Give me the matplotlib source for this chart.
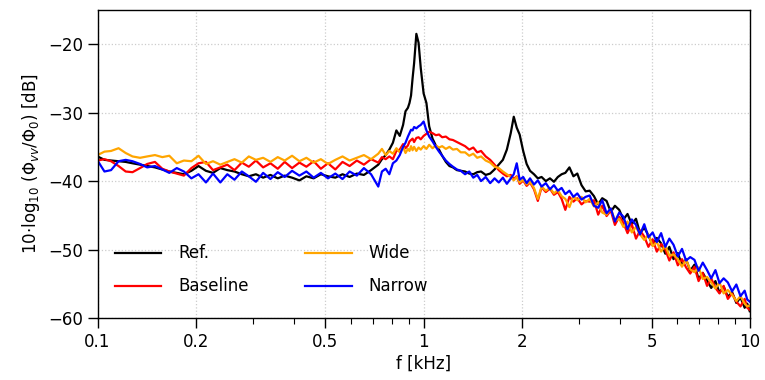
import matplotlib
matplotlib.use("Agg")
import matplotlib.pyplot as plt
from matplotlib.ticker import FixedLocator, FixedFormatter, NullFormatter, LogLocator

# ---------------- data ----------------
freq_khz = [
    0.100, 0.105, 0.110, 0.116, 0.122, 0.128, 0.135, 0.142, 0.150, 0.158,
    0.166, 0.175, 0.184, 0.194, 0.204, 0.215, 0.226, 0.238, 0.250, 0.263,
    0.277, 0.291, 0.306, 0.322, 0.339, 0.357, 0.375, 0.395, 0.416, 0.437,
    0.460, 0.484, 0.509, 0.536, 0.564, 0.593, 0.624, 0.656, 0.690, 0.726,
    0.745, 0.765, 0.785, 0.805, 0.825, 0.845, 0.865, 0.880, 0.895, 0.905,
    0.915, 0.925, 0.935, 0.950, 0.965, 0.980, 1.000, 1.020, 1.040, 1.065,
    1.090, 1.115, 1.140, 1.170, 1.200, 1.230, 1.265, 1.300,
    1.34, 1.38, 1.42, 1.46, 1.50, 1.55, 1.60, 1.65, 1.70, 1.75,
    1.80, 1.85, 1.89, 1.93, 1.97, 2.02, 2.07, 2.12, 2.18, 2.24,
    2.30, 2.37, 2.44, 2.51, 2.58, 2.65, 2.72, 2.80, 2.88, 2.96,
    3.05, 3.14,
    3.23, 3.33, 3.43, 3.53, 3.64, 3.75, 3.86, 3.98, 4.10, 4.22,
    4.35, 4.48, 4.61, 4.75, 4.89, 5.04, 5.19, 5.35, 5.51, 5.67,
    5.84, 6.02, 6.20, 6.38, 6.57, 6.77, 6.97, 7.18, 7.40, 7.62,
    7.85, 8.08, 8.32, 8.57, 8.83, 9.10, 9.37, 9.65, 9.83, 10.0,
]

ref_db = [
    -36.4, -36.9, -37.0, -37.1, -37.2, -37.4, -37.6, -37.8, -38.0, -38.3,
    -38.6, -38.8, -39.0, -38.5, -37.8, -38.5, -38.8, -38.1, -38.4, -38.6,
    -39.0, -39.3, -39.0, -39.5, -39.1, -39.6, -39.2, -39.5, -39.9, -39.3,
    -39.6, -39.0, -39.3, -39.5, -39.0, -39.4, -38.9, -39.1, -38.4, -37.6,
    -36.8, -36.2, -35.4, -34.4, -32.6, -33.4, -31.8, -29.8, -29.3, -28.6,
    -27.5, -25.0, -22.8, -18.5, -19.8, -23.5, -27.2, -28.6, -32.0, -33.8,
    -34.8, -35.4, -36.3, -37.2, -37.8, -38.0, -38.4, -38.5,
    -38.6, -38.9, -39.0, -38.7, -38.6, -39.1, -38.9, -38.3, -37.6, -36.9,
    -35.4, -33.0, -30.6, -32.2, -33.2, -35.6, -37.5, -38.5, -39.0, -39.6,
    -39.4, -40.0, -39.6, -40.1, -39.4, -39.0, -38.8, -38.0, -39.3, -38.9,
    -40.6, -41.5,
    -41.4, -42.2, -43.4, -42.5, -42.9, -44.5, -43.6, -44.2, -45.6, -44.8,
    -46.3, -45.5, -47.6, -46.8, -47.9, -49.4, -48.3, -49.1, -50.6, -49.6,
    -51.4, -50.5, -52.3, -51.4, -53.1, -52.2, -54.3, -53.4, -54.5, -55.6,
    -54.6, -56.3, -55.4, -56.9, -56.2, -57.8, -57.0, -58.5, -57.9, -59.0,
]

baseline_db = [
    -37.0, -36.8, -37.1, -37.8, -38.6, -38.7, -38.1, -37.5, -37.2, -38.2,
    -38.6, -38.9, -39.2, -38.1, -37.4, -37.2, -38.4, -38.0, -37.6, -38.4,
    -37.3, -37.9, -37.0, -38.0, -37.4, -38.2, -37.2, -38.1, -37.3, -37.9,
    -37.1, -38.2, -37.4, -38.3, -37.2, -37.8, -37.0, -37.6, -36.8, -37.3,
    -36.5, -36.8, -36.4, -36.8, -35.6, -35.4, -34.6, -35.2, -34.8, -34.2,
    -34.0, -33.8, -34.3, -33.7, -33.6, -33.9, -33.4, -33.1, -32.8, -33.0,
    -33.3, -33.2, -33.6, -33.5, -33.9, -34.0, -34.3, -34.6,
    -34.9, -35.4, -35.1, -35.8, -35.6, -36.4, -36.9, -37.6, -38.4, -38.9,
    -39.3, -39.1, -39.7, -39.3, -40.4, -39.9, -40.7, -40.2, -41.2, -42.9,
    -40.9, -41.6, -41.1, -42.0, -41.6, -42.6, -44.2, -42.3, -43.0, -42.5,
    -43.4, -42.9,
    -43.0, -42.8, -44.9, -43.6, -45.1, -44.3, -46.4, -45.2, -46.1, -47.6,
    -46.3, -48.4, -47.2, -48.1, -49.6, -48.5, -50.3, -49.2, -50.0, -51.6,
    -50.4, -52.3, -51.4, -52.6, -53.5, -52.5, -54.6, -53.4, -55.3, -54.2,
    -55.6, -56.4, -55.3, -57.2, -56.4, -57.6, -58.3, -57.2, -58.5, -58.8,
]

wide_db = [
    -36.2, -35.7, -35.6, -35.2, -35.9, -36.4, -36.6, -36.4, -36.2, -36.5,
    -36.3, -37.4, -37.0, -37.1, -36.3, -37.5, -37.1, -37.6, -37.2, -36.8,
    -37.3, -36.4, -36.9, -36.6, -37.2, -36.5, -37.0, -36.3, -37.1, -36.6,
    -37.3, -36.8, -37.5, -36.9, -36.4, -37.0, -36.6, -36.2, -36.8, -36.0,
    -35.3, -36.2, -35.6, -36.0, -35.2, -35.8, -35.0, -35.9, -35.3, -35.6,
    -34.9, -35.5, -35.0, -35.6, -35.1, -35.4, -34.9, -35.3, -34.7, -35.2,
    -34.8, -35.1, -34.9, -35.3, -35.0, -35.4, -35.3, -35.8,
    -35.8, -36.3, -36.0, -36.6, -36.4, -37.0, -37.3, -37.9, -38.1, -38.6,
    -39.0, -39.4, -39.9, -39.4, -40.2, -39.8, -40.5, -40.1, -41.0, -42.6,
    -40.8, -41.4, -41.0, -41.8, -41.3, -42.2, -42.6, -43.8, -42.2, -42.8,
    -42.3, -43.1,
    -42.6, -43.7, -43.1, -44.6, -44.9, -44.0, -45.8, -45.5, -46.7, -45.9,
    -47.5, -46.7, -47.8, -48.6, -47.8, -49.5, -48.9, -50.3, -49.4, -50.9,
    -50.7, -51.4, -52.5, -51.5, -52.9, -53.3, -52.6, -54.3, -54.0, -54.8,
    -55.7, -54.8, -56.4, -55.9, -56.6, -57.5, -56.8, -57.9, -58.3, -58.2,
]

narrow_db = [
    -37.0, -38.6, -38.4, -37.1, -36.9, -37.1, -37.5, -38.0, -37.8, -38.3,
    -38.8, -38.1, -38.6, -39.6, -39.0, -40.2, -38.9, -40.2, -39.0, -39.8,
    -38.6, -39.3, -40.1, -38.8, -39.7, -38.7, -39.4, -38.5, -39.2, -38.6,
    -39.5, -38.8, -39.6, -38.9, -39.7, -38.6, -39.2, -38.1, -39.0, -40.8,
    -38.6, -38.2, -39.0, -37.4, -37.0, -36.2, -35.0, -34.4, -33.5, -33.0,
    -32.5, -32.6, -32.1, -32.3, -32.0, -31.8, -31.3, -32.6, -33.5, -34.2,
    -35.0, -35.7, -36.3, -37.0, -37.5, -37.9, -38.3, -38.5,
    -39.0, -38.6, -39.5, -39.1, -40.0, -39.4, -40.3, -39.6, -40.2, -39.5,
    -40.4, -39.6, -39.0, -37.4, -39.8, -39.4, -40.3, -39.6, -40.5, -39.9,
    -40.8, -40.3, -41.2, -40.6, -41.4, -41.0, -41.9, -41.4, -42.3, -41.8,
    -42.7, -42.3,
    -42.1, -43.6, -43.9, -42.8, -44.7, -44.0, -45.9, -44.6, -45.2, -47.0,
    -45.6, -46.4, -47.8, -46.3, -48.2, -47.5, -48.9, -47.6, -49.6, -48.4,
    -49.3, -51.0, -49.9, -51.6, -51.1, -51.5, -53.1, -51.9, -53.0, -54.2,
    -53.0, -54.9, -54.2, -54.8, -56.1, -55.1, -56.8, -56.0, -57.3, -57.6,
]

series_labels = ["Ref.", "Baseline", "Wide", "Narrow"]
series_colors = ["black", "red", "orange", "blue"]

x_ticks = [0.1, 0.2, 0.5, 1, 2, 5, 10]
x_ticklabels = ["0.1", "0.2", "0.5", "1", "2", "5", "10"]
y_ticks = [-60, -50, -40, -30, -20]

# ---------------- plot ----------------
plt.rcParams["font.family"] = ["DejaVu Sans"]
plt.rcParams["mathtext.fontset"] = "dejavusans"

fig = plt.figure(figsize=(7.65, 3.8), dpi=100)
ax = fig.add_axes([0.1275, 0.163, 0.8525, 0.811])

for vals, lab, col in zip([ref_db, baseline_db, wide_db, narrow_db], series_labels, series_colors):
    ax.plot(freq_khz, vals, color=col, lw=1.6, label=lab)

ax.set_xscale("log")
ax.set_xlim(0.1, 10)
ax.set_ylim(-60, -15)
ax.xaxis.set_major_locator(FixedLocator(x_ticks))
ax.xaxis.set_major_formatter(FixedFormatter(x_ticklabels))
ax.xaxis.set_minor_locator(LogLocator(base=10, subs=[2, 3, 4, 5, 6, 7, 8, 9], numticks=20))
ax.xaxis.set_minor_formatter(NullFormatter())
ax.set_yticks(y_ticks)
ax.set_yticklabels(["\u221260", "\u221250", "\u221240", "\u221230", "\u221220"])

ax.tick_params(axis="both", which="major", labelsize=12, length=7, width=1, direction="out")
ax.tick_params(axis="x", which="minor", length=4, width=0.8, direction="out")

ax.grid(True, which="major", color="#cccccc", linestyle=":", linewidth=0.9)
for s in ax.spines.values():
    s.set_linewidth(1.0)

ax.set_xlabel("f [kHz]", fontsize=12, labelpad=3)
ax.set_ylabel(r"10$\cdot$log$_{10}$ ($\Phi_{vv}/\Phi_0$) [dB]", fontsize=12, labelpad=4)

ax.legend(loc="lower left", bbox_to_anchor=(0.016, 0.052), borderaxespad=0,
          ncol=2, frameon=False, fontsize=12,
          handlelength=2.8, handletextpad=1.0, columnspacing=3.4,
          labelspacing=0.9)

fig.savefig("out.png", dpi=100)
